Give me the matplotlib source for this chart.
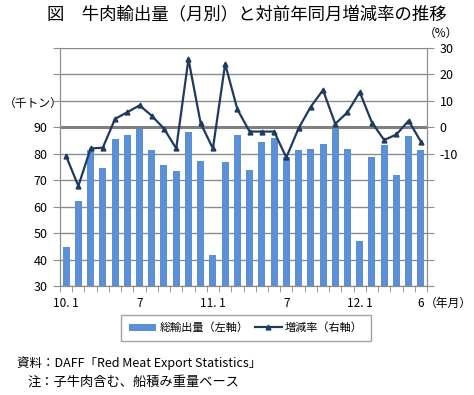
#!/usr/bin/env python3
"""Beef exports by month with year-on-year change."""
import matplotlib
matplotlib.use("Agg")
import matplotlib.pyplot as plt
from matplotlib.ticker import FixedLocator

plt.rcParams["font.family"] = ["Noto Sans CJK JP", "DejaVu Sans"]

# 2010.1 .. 2012.6
months = list(range(30))
tick_pos = [0, 6, 12, 18, 24, 29]
tick_labels = ["10. 1", "7", "11. 1", "7", "12. 1", "6"]

exports = [44.8, 62.1, 81.6, 74.6, 85.6, 87.1, 89.3, 81.4, 75.7, 73.6,
           88.2, 77.3, 41.7, 77.0, 87.1, 73.8, 84.4, 85.9, 78.7, 81.4,
           81.8, 83.7, 89.9, 81.8, 46.9, 78.7, 83.3, 71.9, 86.7, 81.4]
change = [-10.9, -22.2, -8.0, -7.7, 3.2, 5.7, 8.3, 4.4, -0.5, -8.0,
          25.8, 1.5, -8.0, 24.0, 6.8, -1.6, -1.6, -1.6, -11.4, -0.4,
          7.8, 14.1, 1.3, 5.7, 13.3, 1.8, -4.8, -2.7, 2.5, -5.4]

bar_color = "#5B8FD6"
line_color = "#1F3A60"
grid_color = "#8C8C8C"

fig = plt.figure(figsize=(4.74, 3.95), dpi=100)
ax = fig.add_axes([60 / 474, 1 - 286 / 395, 367 / 474, 238 / 395])
ax2 = ax.twinx()

ax.bar(months, exports, width=0.57, color=bar_color, zorder=2, label="総輸出量（左軸）")
ax.set_ylim(30, 120)
ax.set_xlim(-0.5, 29.5)
ax.set_yticks(range(30, 121, 10))
ax.set_yticklabels([str(v) if v <= 90 else "" for v in range(30, 121, 10)])
ax.yaxis.grid(True, color=grid_color, lw=1.0, zorder=0)
ax.set_axisbelow(True)

ax2.plot(months, change, color=line_color, lw=1.6, marker="^", ms=3.5,
         zorder=3, label="増減率（右軸）")
ax2.axhline(0, color="#7F7F7F", lw=2.2, zorder=1)
ax2.set_ylim(-60, 30)
ax2.set_yticks(range(-60, 31, 10))
ax2.set_yticklabels([str(v) if v >= -10 else "" for v in range(-60, 31, 10)])
ax.set_zorder(ax2.get_zorder() - 1)
ax.patch.set_visible(True)
ax2.patch.set_visible(False)

ax.set_xticks(tick_pos)
ax.set_xticklabels(tick_labels)
ax.xaxis.set_minor_locator(FixedLocator([i - 0.5 for i in range(31)]))
ax.tick_params(axis="x", which="major", length=0, pad=8, labelsize=8.5)
ax.tick_params(axis="x", which="minor", length=4, color=grid_color)
ax.tick_params(axis="y", length=5, color=grid_color, labelsize=9, pad=4)
ax2.tick_params(axis="y", length=5, color=grid_color, labelsize=9, pad=4)

for a in (ax, ax2):
    for s in a.spines.values():
        s.set_color(grid_color)
    a.spines["top"].set_visible(False)

fig.text(247 / 474, 1 - 14 / 395, "図　牛肉輸出量（月別）と対前年同月増減率の推移",
         ha="center", va="center", fontsize=12.5)
fig.text(4 / 474, 1 - 103 / 395, "（千トン）", ha="left", va="center", fontsize=8.5)
fig.text(424 / 474, 1 - 33 / 395, "（%）", ha="left", va="center", fontsize=8.5)
fig.text(472 / 474, 1 - 303 / 395, "（年月）", ha="right", va="center", fontsize=8.5)

h1, l1 = ax.get_legend_handles_labels()
h2, l2 = ax2.get_legend_handles_labels()
leg = fig.legend(h1 + h2, l1 + l2, loc="center", ncol=2,
                 bbox_to_anchor=(246 / 474, 1 - 328 / 395), fontsize=8,
                 frameon=True, fancybox=False, edgecolor=grid_color,
                 handlelength=2.4, handletextpad=0.3, columnspacing=0.6,
                 borderpad=0.7)
leg.get_frame().set_linewidth(1.0)

fig.text(17 / 474, 1 - 363 / 395, "資料：DAFF「Red Meat Export Statistics」",
         ha="left", va="center", fontsize=9)
fig.text(28 / 474, 1 - 382 / 395, "注：子牛肉含む、船積み重量ベース",
         ha="left", va="center", fontsize=9.5)

fig.savefig("out.png", dpi=100)
plt.close(fig)
